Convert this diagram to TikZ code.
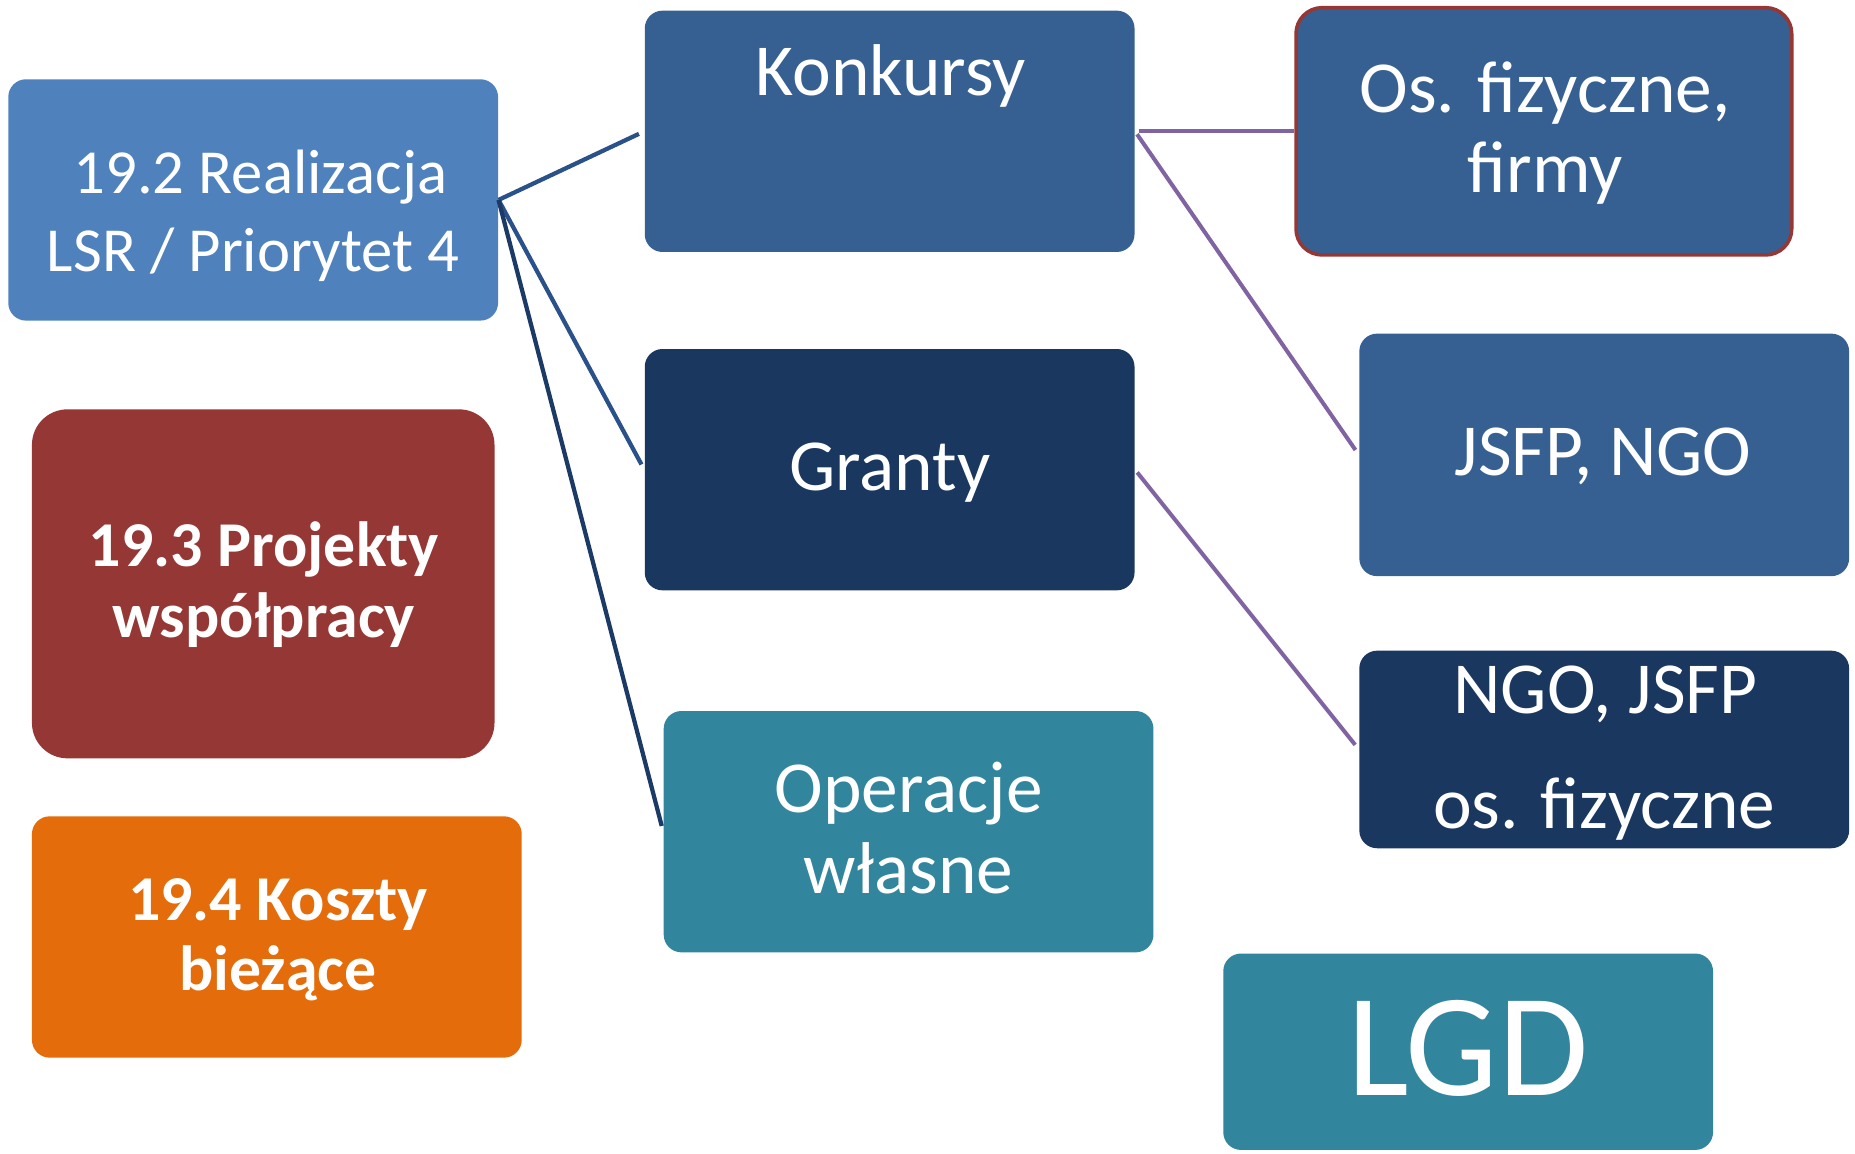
\documentclass[tikz,border=0pt]{standalone}
\usepackage{fontspec}
\setmainfont{Carlito}
\definecolor{cA}{HTML}{4F81BD}
\definecolor{cB}{HTML}{953735}
\definecolor{cC}{HTML}{E46C0A}
\definecolor{cMid}{HTML}{376092}
\definecolor{cDark}{HTML}{1A375F}
\definecolor{cTeal}{HTML}{31859C}
\definecolor{cLine}{HTML}{2A5189}
\definecolor{cLineD}{HTML}{1B3A66}
\definecolor{cPurp}{HTML}{8064A2}
\tikzset{
  box/.style={rectangle, draw=none, inner sep=0pt, rounded corners=7.5pt,
    minimum width=207pt, minimum height=102pt},
  txt/.style={text=white, inner sep=0pt, anchor=base},
  big/.style={txt, font=\fontsize{31}{37}\selectfont},
  mid/.style={txt, font=\fontsize{26.5}{33}\selectfont},
  bold/.style={txt, font=\fontsize{27}{33}\selectfont\bfseries},
  blueline/.style={draw=cLine, line width=1.8pt, shorten >=2.5pt},
  purpline/.style={draw=cPurp, line width=1.7pt, shorten <=1.5pt},
}
\begin{document}
\begin{tikzpicture}[x=0.5pt, y=-0.5pt]
\useasboundingbox (0,0) rectangle (1568,975);
% boxes
\node[box, fill=cA] (A) at (214,169) {};
\node[box, fill=cB, rounded corners=15pt, minimum width=195.5pt, minimum height=147.5pt] (B) at (222.5,493.5) {};
\node[box, fill=cC] (C) at (234,792) {};
\node[box, fill=cMid] (K) at (752,111) {};
\node[box, fill=cDark] (G) at (752,397) {};
\node[box, fill=cTeal] (O) at (768,703) {};
\node[box, fill=cMid, draw=cB, line width=1.5pt, rounded corners=11pt, minimum width=209.5pt, minimum height=104.5pt] (F) at (1305,111) {};
\node[box, fill=cMid, minimum height=102.5pt] (J) at (1356,384.5) {};
\node[box, fill=cDark, minimum height=83.5pt] (N) at (1356,633.5) {};
\node[box, fill=cTeal, minimum height=83pt] (L) at (1241,889) {};
% connectors
\draw[blueline] (A.east) -- (K.west);
\draw[blueline] (A.east) -- (G.west);
\draw[blueline, draw=cLineD] (A.east) -- (O.west);
\draw[purpline] (K.east) -- (F.west);
\draw[purpline, shorten >=2.5pt] (K.east) -- (J.west);
\draw[purpline, shorten >=2.5pt] (G.east) -- (N.west);
% texts
\node[mid] (tA1) at (220,163.5) {19.2 Realizacja};
\node[mid] (tA2) at (214,229.5) {LSR / Priorytet 4};
\node[bold] (tB1) at (223,479) {19.3 Projekty};
\node[bold] (tB2) at (223,538.5) {współpracy};
\node[bold] (tC1) at (235,778) {19.4 Koszty};
\node[bold] (tC2) at (235,837.5) {bieżące};
\node[big] (tK) at (753,81) {Konkursy};
\node[big] (tG) at (752,415) {Granty};
\node[big] (tO1) at (768,687) {Operacje};
\node[big] (tO2) at (768,755.5) {własne};
\node[big] (tF1) at (1306,95) {Os. fizyczne,};
\node[big] (tF2) at (1306,163) {firmy};
\node[big] (tJ) at (1355,402) {JSFP, NGO};
\node[big] (tN1) at (1357,603.5) {NGO, JSFP};
\node[big] (tN2) at (1356,700) {os. fizyczne};
\node[txt, font=\fontsize{62}{70}\selectfont] (tL) at (1241,926) {LGD};
\end{tikzpicture}
\end{document}
